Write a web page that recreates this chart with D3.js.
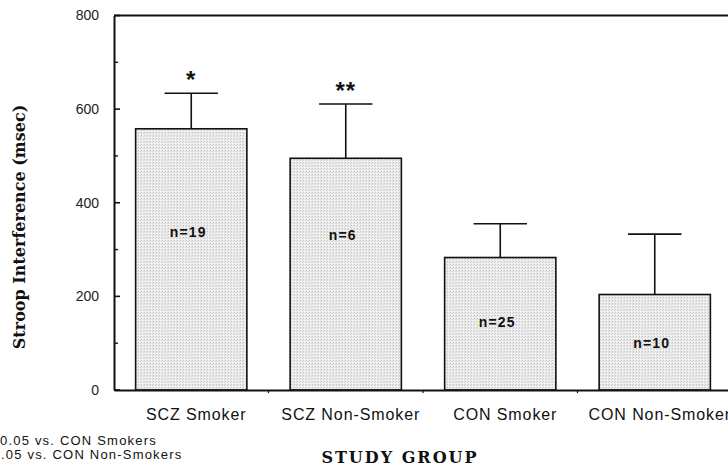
<!DOCTYPE html>
<html>
<head>
<meta charset="utf-8">
<script src="https://cdn.jsdelivr.net/npm/d3@7"></script>
<style>
  html, body { margin: 0; padding: 0; background: #fff; }
  svg { display: block; }
</style>
</head>
<body>
<svg id="chart" width="728" height="472"></svg>
<script>
// Stroop interference by study group (mean + upper error bar)
const groups = ["SCZ Smoker", "SCZ Non-Smoker", "CON Smoker", "CON Non-Smoker"];
const means = [558, 495, 283, 204];
const errTops = [634, 611, 355, 333];
const sampleSizes = ["n=19", "n=6", "n=25", "n=10"];
const sampleLabelAt = [327, 320, 135, 90];   // y value where each n label sits
const markers = ["*", "**", "", ""];
const yTicks = [0, 200, 400, 600, 800];
const yMinorTicks = [100, 300, 500, 700];
const footnotes = [
  { hidden: "*p<", shown: "0.05 vs. CON Smokers" },
  { hidden: "**p<", shown: ".05 vs. CON Non-Smokers" }
];

const svg = d3.select("#chart");
const plotLeft = 114, plotRight = 732, plotTop = 15.5, plotBottom = 390;
const sans = "'Liberation Sans', Arial, Helvetica, sans-serif";
const serif = "'DejaVu Serif', 'Liberation Serif', serif";

const x = d3.scaleBand().domain(groups).range([plotLeft, plotRight])
  .paddingInner(0.28).paddingOuter(0.14);
const y = d3.scaleLinear().domain([0, 800]).range([plotBottom, plotTop]);

// stippled bar fill
const defs = svg.append("defs");
const pat = defs.append("pattern").attr("id", "stipple")
  .attr("width", 3).attr("height", 3).attr("patternUnits", "userSpaceOnUse");
pat.append("rect").attr("width", 3).attr("height", 3).attr("fill", "#ebebeb");
pat.append("rect").attr("x", 0).attr("y", 0).attr("width", 1).attr("height", 1).attr("fill", "#c2c2c2");
pat.append("rect").attr("x", 2).attr("y", 1).attr("width", 1).attr("height", 1).attr("fill", "#d4d4d4");
pat.append("rect").attr("x", 1).attr("y", 2).attr("width", 1).attr("height", 1).attr("fill", "#f8f8f8");

const data = groups.map((g, i) => ({
  g, mean: means[i], err: errTops[i], n: sampleSizes[i], nAt: sampleLabelAt[i], mark: markers[i]
}));
const cx = d => x(d.g) + x.bandwidth() / 2;

// error bars (drawn first so bars cover the stem base)
const capHalf = x.bandwidth() * 0.24;
const eb = svg.append("g").attr("stroke", "#111").attr("stroke-width", 1.6);
eb.selectAll("line.stem").data(data).join("line").attr("class", "stem")
  .attr("x1", cx).attr("x2", cx)
  .attr("y1", d => y(d.mean)).attr("y2", d => y(d.err));
eb.selectAll("line.cap").data(data).join("line").attr("class", "cap")
  .attr("x1", d => cx(d) - capHalf)
  .attr("x2", d => cx(d) + capHalf)
  .attr("y1", d => y(d.err)).attr("y2", d => y(d.err));

// bars
svg.append("g").selectAll("rect").data(data).join("rect")
  .attr("x", d => x(d.g)).attr("width", x.bandwidth())
  .attr("y", d => y(d.mean)).attr("height", d => y(0) - y(d.mean))
  .attr("fill", "url(#stipple)").attr("stroke", "#111").attr("stroke-width", 1.6);

// sample size labels
svg.append("g").selectAll("text").data(data).join("text")
  .attr("x", d => cx(d) - 3)
  .attr("y", d => y(d.nAt))
  .attr("text-anchor", "middle")
  .attr("font-family", sans)
  .attr("font-weight", "bold").attr("font-size", 14)
  .attr("letter-spacing", "1.2px")
  .attr("fill", "#111")
  .text(d => d.n);

// significance markers
svg.append("g").selectAll("text").data(data.filter(d => d.mark)).join("text")
  .attr("x", d => cx(d))
  .attr("y", d => y(d.err) - 5)
  .attr("text-anchor", "middle")
  .attr("font-family", sans)
  .attr("font-weight", "bold").attr("font-size", 24)
  .attr("letter-spacing", "1px")
  .attr("fill", "#111")
  .text(d => d.mark);

// frame: top border
svg.append("line").attr("x1", plotLeft).attr("x2", 728).attr("y1", plotTop).attr("y2", plotTop)
  .attr("stroke", "#111").attr("stroke-width", 1.8);

// y axis
const yAxis = svg.append("g").attr("transform", `translate(${plotLeft},0)`)
  .call(d3.axisLeft(y).tickValues(yTicks).tickSize(0).tickPadding(15));
yAxis.select(".domain").attr("stroke", "#111").attr("stroke-width", 2);
yAxis.selectAll("text")
  .attr("font-family", sans)
  .attr("font-size", 14).attr("fill", "#222");
svg.append("g").selectAll("line").data(yTicks).join("line")
  .attr("x1", plotLeft).attr("x2", plotLeft + 6).attr("y1", d => y(d)).attr("y2", d => y(d))
  .attr("stroke", "#111").attr("stroke-width", 1.6);
svg.append("g").selectAll("line").data(yMinorTicks).join("line")
  .attr("x1", plotLeft).attr("x2", plotLeft + 4).attr("y1", d => y(d)).attr("y2", d => y(d))
  .attr("stroke", "#111").attr("stroke-width", 1.4);

// x axis
const xAxis = svg.append("g").attr("transform", `translate(0,${plotBottom})`)
  .call(d3.axisBottom(x).tickSize(0).tickPadding(30));
xAxis.select(".domain").attr("stroke", "#111").attr("stroke-width", 2);
xAxis.selectAll("text")
  .attr("font-family", sans)
  .attr("font-size", 16).attr("fill", "#111")
  .attr("letter-spacing", "0.9px")
  .attr("dx", 5)
  .attr("dy", "0");
// small ticks between groups
const bounds = groups.slice(1).map(g => x(g) - x.step() * x.paddingInner() / 2);
svg.append("g").selectAll("line").data(bounds).join("line")
  .attr("x1", d => d).attr("x2", d => d).attr("y1", plotBottom).attr("y2", plotBottom + 3)
  .attr("stroke", "#111").attr("stroke-width", 1.2);

// axis titles
svg.append("text")
  .attr("transform", "translate(25,227) rotate(-90)")
  .attr("text-anchor", "middle")
  .attr("font-family", serif)
  .attr("font-weight", "bold").attr("font-size", 16)
  .attr("fill", "#111")
  .text("Stroop Interference (msec)");

svg.append("text")
  .attr("x", 400).attr("y", 463)
  .attr("text-anchor", "middle")
  .attr("font-family", serif)
  .attr("font-weight", "bold").attr("font-size", 16)
  .attr("letter-spacing", "2px")
  .attr("fill", "#111")
  .text("STUDY GROUP");

// footnotes (left part runs off the edge)
const fn = svg.append("g")
  .attr("font-family", sans)
  .attr("font-size", 13).attr("letter-spacing", "1.2px").attr("fill", "#111");
footnotes.forEach((f, i) => {
  const probe = fn.append("text").text(f.hidden);
  const w = probe.node().getComputedTextLength();
  probe.remove();
  fn.append("text")
    .attr("x", -w + (i === 0 ? 0 : 1))
    .attr("y", 445 + i * 14)
    .text(f.hidden + f.shown);
});
</script>
</body>
</html>
